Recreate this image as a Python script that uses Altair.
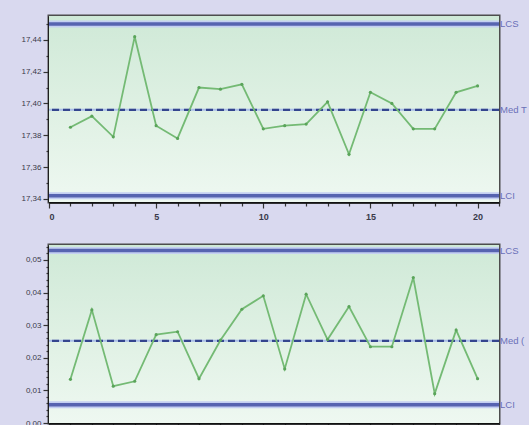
import altair as alt
import pandas as pd

# ---- data ----
samples = list(range(1, 21))

top_values = [17.385, 17.392, 17.379, 17.442, 17.386, 17.378, 17.410, 17.409, 17.412, 17.384,
              17.386, 17.387, 17.401, 17.368, 17.407, 17.400, 17.384, 17.384, 17.407, 17.411]
top_limit_labels = ["LCS", "Med T", "LCI"]
top_limit_values = [17.450, 17.396, 17.342]
top_domain = [17.338, 17.455]
top_ticks = [17.34, 17.35, 17.36, 17.37, 17.38, 17.39, 17.40, 17.41, 17.42, 17.43, 17.44, 17.45]

bottom_values = [0.0134, 0.0347, 0.0113, 0.0128, 0.0271, 0.0280, 0.0136, 0.0254, 0.0349, 0.0390,
                 0.0166, 0.0395, 0.0256, 0.0357, 0.0234, 0.0234, 0.0446, 0.0090, 0.0285, 0.0136]
bottom_limit_labels = ["LCS", "Med (", "LCI"]
bottom_limit_values = [0.0529, 0.0252, 0.0056]
bottom_domain = [0.0, 0.0546]
bottom_ticks = [round(i * 0.002, 3) for i in range(0, 28)]

x_ticks = list(range(0, 22))

# ---- styles ----
PLOT_W = 450
green_fill = alt.LinearGradient(
    gradient="linear",
    stops=[alt.GradientStop(color="#cfe9d7", offset=0),
           alt.GradientStop(color="#e2f2e6", offset=0.6),
           alt.GradientStop(color="#eef8f1", offset=1)],
    x1=0, x2=0, y1=0, y2=1,
)


def panel(values, lim_labels, lim_values, ydomain, yticks, major_expr, height, show_x_labels):
    df = pd.DataFrame({"x": samples, "y": values})
    lim_df = pd.DataFrame({"y": lim_values, "label": lim_labels})
    ctrl_df = lim_df[lim_df["label"].isin(["LCS", "LCI"])]
    mean_df = lim_df[~lim_df["label"].isin(["LCS", "LCI"])]

    x_enc = alt.X(
        "x:Q",
        title=None,
        scale=alt.Scale(domain=[0, 21], nice=False, zero=False),
        axis=alt.Axis(
            values=x_ticks,
            labels=show_x_labels,
            labelExpr="datum.value % 5 == 0 ? datum.label : ''",
            tickSize={"condition": {"test": "datum.value % 5 == 0", "value": 6}, "value": 4},
            labelFontWeight="bold",
            labelFontSize=9,
            labelPadding=4,
        ),
    )
    y_enc = alt.Y(
        "y:Q",
        title=None,
        scale=alt.Scale(domain=ydomain, nice=False, zero=False),
        axis=alt.Axis(
            values=yticks,
            labelExpr=f"{major_expr} ? replace(format(datum.value, '.2f'), '.', ',') : ''",
            tickSize={"condition": {"test": major_expr, "value": 6}, "value": 3},
            labelFontSize=8,
            labelPadding=2,
        ),
    )

    bg = alt.Chart(pd.DataFrame({"a": [0]})).mark_rect(color=green_fill).encode(
        x=alt.value(0), x2=alt.value("width"), y=alt.value(0), y2=alt.value("height")
    )
    ctrl_glow = alt.Chart(ctrl_df).mark_rule(color="#c4cff2", strokeWidth=7).encode(y=y_enc)
    ctrl = alt.Chart(ctrl_df).mark_rule(color="#5663b0", strokeWidth=3.5).encode(y=y_enc)
    mean_glow = alt.Chart(mean_df).mark_rule(color="#a9bde8", strokeWidth=2).encode(y=y_enc)
    mean = alt.Chart(mean_df).mark_rule(color="#34458e", strokeWidth=2.2, strokeDash=[7, 4]).encode(y=y_enc)
    line = alt.Chart(df).mark_line(
        color="#74ba74", strokeWidth=1.8,
        point=alt.OverlayMarkDef(filled=True, size=10, color="#5aa45a"),
    ).encode(x=x_enc, y=y_enc)
    labels = alt.Chart(lim_df).mark_text(
        align="left", baseline="middle", dx=0, fontSize=9.5, color="#6a70b8", font="Liberation Sans"
    ).encode(x=alt.value(PLOT_W + 1), y=y_enc, text="label:N")

    return alt.layer(bg, ctrl_glow, ctrl, mean_glow, mean, line, labels).properties(width=PLOT_W, height=height)


top = panel(top_values, top_limit_labels, top_limit_values, top_domain, top_ticks,
            "round(datum.value * 1000) % 20 == 0", 186, True)
bottom = panel(bottom_values, bottom_limit_labels, bottom_limit_values, bottom_domain, bottom_ticks,
               "round(datum.value * 1000) % 10 == 0", 178, False)

chart = alt.vconcat(top, bottom, spacing=20).properties(
    background="#d9d9ef",
    padding={"left": 19, "top": 14, "right": 0, "bottom": 0},
).configure_view(
    stroke="#4d4d4d", strokeWidth=3
).configure_axis(
    grid=False,
    domainColor="#111111",
    domainWidth=2.5,
    tickColor="#333333",
    tickWidth=1.2,
    labelColor="#3a3a4a",
    labelFont="Liberation Sans",
)

chart.save("out.html", embed_options={"renderer": "svg", "actions": False})
